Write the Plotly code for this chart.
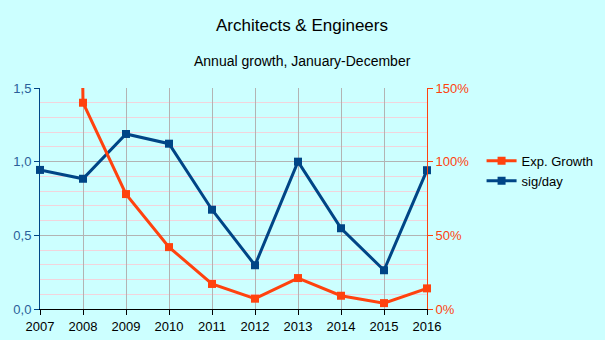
import plotly.graph_objects as go

years = [2007, 2008, 2009, 2010, 2011, 2012, 2013, 2014, 2015, 2016]
# expected growth in percent (2007 far above the axis range)
exp_growth = [2500, 140, 78, 42, 17, 7, 21, 9, 4, 14]
# signatures per day
sig_day = [0.944, 0.884, 1.188, 1.122, 0.674, 0.297, 1.0, 0.548, 0.263, 0.942]

title_text = "Architects & Engineers"
subtitle_text = "Annual growth, January-December"

ORANGE = "#ff420e"
BLUE = "#004586"
BG = "#ccffff"
GRID = "#b3b3b3"
MINOR = "#f2d4dc"
FONT = "Liberation Sans, Arial, sans-serif"

fig = go.Figure()
fig.add_trace(go.Scatter(
    x=years, y=exp_growth, name="Exp. Growth", yaxis="y2",
    mode="lines+markers", cliponaxis=False,
    line=dict(color=ORANGE, width=3),
    marker=dict(symbol="square", size=8, color=ORANGE),
))
fig.add_trace(go.Scatter(
    x=years, y=sig_day, name="sig/day", yaxis="y",
    mode="lines+markers", cliponaxis=False,
    line=dict(color=BLUE, width=3),
    marker=dict(symbol="square", size=8, color=BLUE),
))

fig.update_layout(
    width=605, height=340,
    paper_bgcolor=BG, plot_bgcolor=BG,
    margin=dict(l=40, r=178, t=88, b=31, autoexpand=False),
    separators=",.",
    font=dict(family=FONT, size=13, color="#000000"),
    showlegend=True,
    legend=dict(x=1.141, y=0.738, xanchor="left", yanchor="top",
                bgcolor="rgba(0,0,0,0)", font=dict(size=13),
                tracegroupgap=0, itemwidth=30),
    xaxis=dict(
        range=[2007, 2016], tickmode="array", tickvals=years,
        ticktext=[str(y) for y in years], automargin=False,
        showgrid=True, gridcolor=GRID, gridwidth=1,
        showline=True, linecolor="#000000", linewidth=1,
        ticks="outside", ticklen=5, tickcolor="#000000",
        zeroline=False, tickfont=dict(size=13, color="#000000"),
    ),
    yaxis=dict(
        range=[0, 1.5], dtick=0.5, tick0=0, tickformat=".1f",
        automargin=False,
        showgrid=True, gridcolor=GRID, gridwidth=1,
        minor=dict(dtick=0.1, showgrid=True, gridcolor=MINOR, gridwidth=1),
        showline=True, linecolor=BLUE, linewidth=1,
        ticks="outside", ticklen=5, tickcolor=BLUE,
        zeroline=False, tickfont=dict(size=13, color="#2a6099"),
    ),
    yaxis2=dict(
        range=[0, 150], dtick=50, tick0=0, ticksuffix="%",
        overlaying="y", side="right", showgrid=False, automargin=False,
        showline=True, linecolor=ORANGE, linewidth=1,
        ticks="outside", ticklen=5, tickcolor=ORANGE,
        zeroline=False, tickfont=dict(size=13, color=ORANGE),
    ),
    annotations=[
        dict(text=title_text, xref="paper", yref="paper",
             x=(302 - 40) / 387, y=1 + (88 - 25) / 221,
             showarrow=False, xanchor="center", yanchor="middle",
             font=dict(size=17, color="#000000")),
        dict(text=subtitle_text, xref="paper", yref="paper",
             x=(302 - 40) / 387, y=1 + (88 - 61) / 221,
             showarrow=False, xanchor="center", yanchor="middle",
             font=dict(size=14, color="#000000")),
    ],
)

fig.write_html("out.html")
